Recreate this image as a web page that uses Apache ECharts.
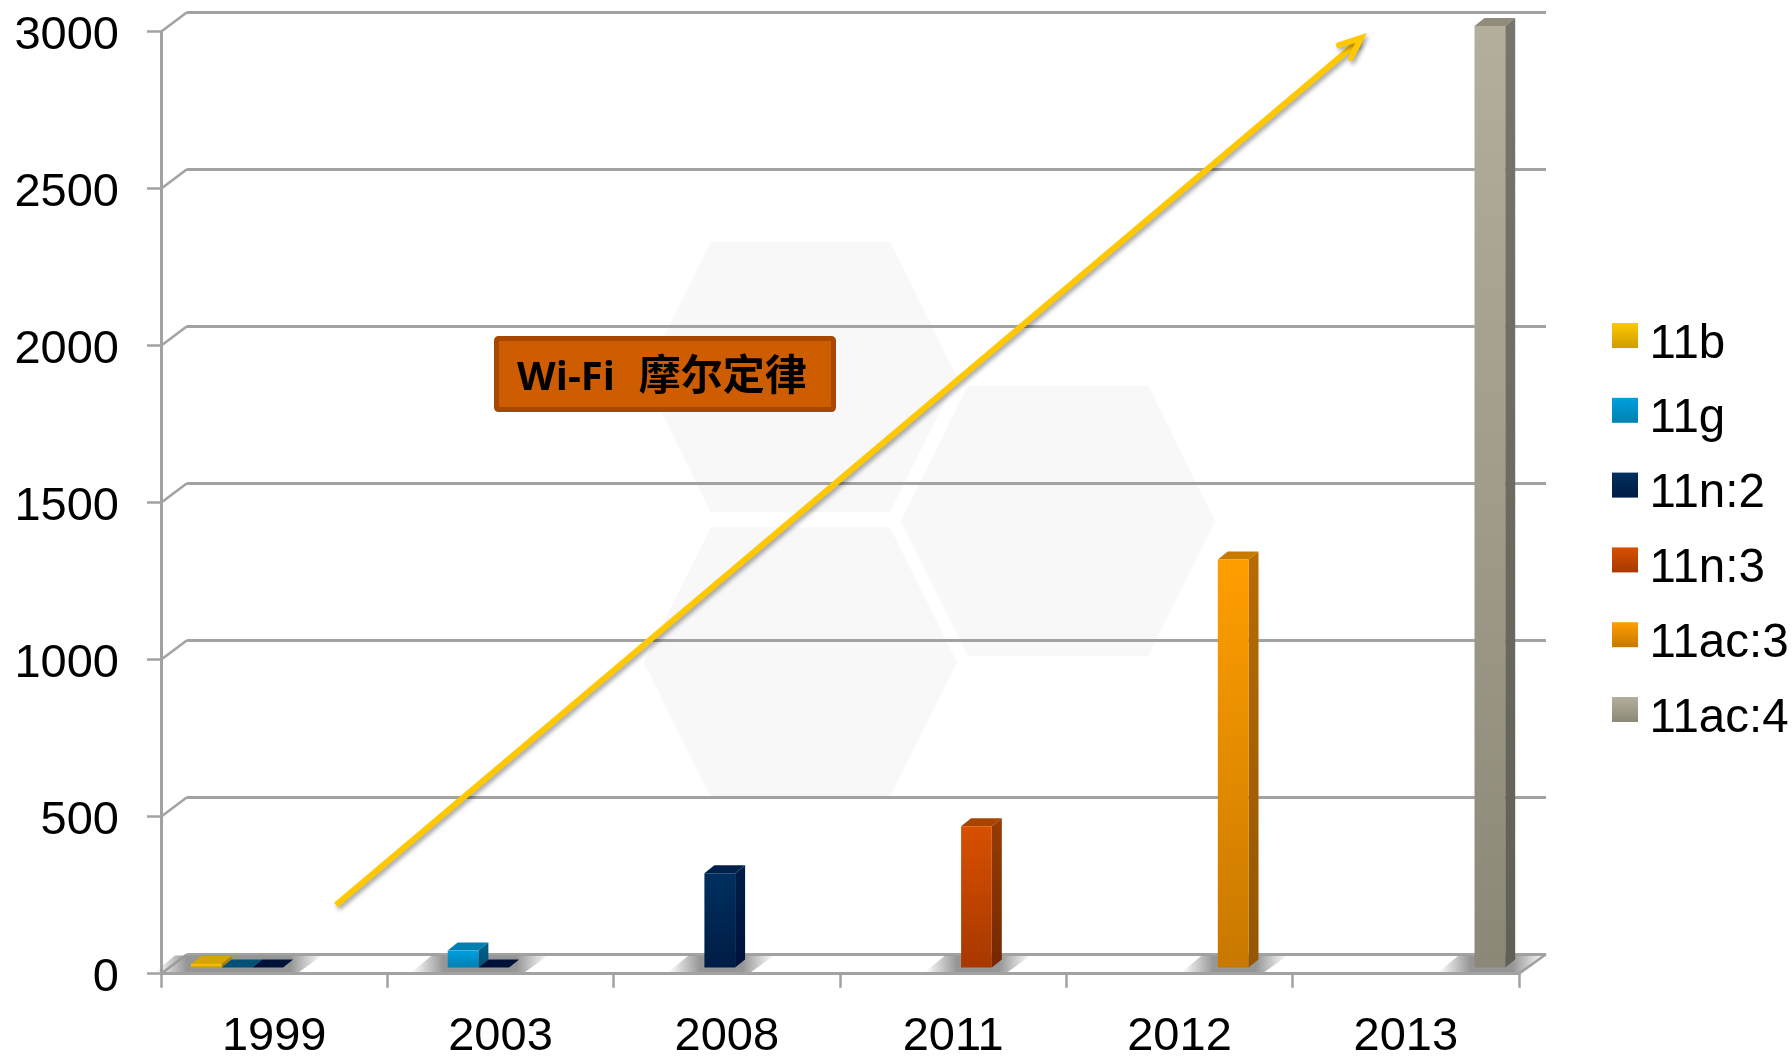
<!DOCTYPE html>
<html>
<head>
<meta charset="utf-8">
<title>Wi-Fi 摩尔定律</title>
<script src="https://cdn.jsdelivr.net/npm/echarts@6/dist/echarts.min.js"></script>
<style>
html, body { margin: 0; padding: 0; background: #fff; }
#chart { width: 1792px; height: 1056px; }
</style>
</head>
<body>
<div id="chart"></div>
<script>
// data
var years = ['1999', '2003', '2008', '2011', '2012', '2013'];
var seriesNames = ['11b', '11g', '11n:2', '11n:3', '11ac:3', '11ac:4'];
var v11b = [11, null, null, null, null, null];
var v11g = [0, 54, null, null, null, null];
var v11n2 = [0, 0, 300, null, null, null];
var v11n3 = [null, null, null, 450, null, null];
var v11ac3 = [null, null, null, null, 1300, null];
var v11ac4 = [null, null, null, null, null, 3000];
var tickValues = [0, 500, 1000, 1500, 2000, 2500, 3000];

// colours of each series: front top, front bottom, side top, side bottom, top face
var frontTop = ['#ffc800', '#00a0e0', '#003060', '#d85000', '#ff9e00', '#b4ae9c'];
var frontBottom = ['#d09c00', '#0080b0', '#001c44', '#a83800', '#c87800', '#8c8878'];
var sideTop = ['#b08400', '#006088', '#001e48', '#963c00', '#b86c00', '#78756a'];
var sideBottom = ['#a07800', '#005078', '#00123a', '#742800', '#945600', '#625f56'];
var topFace = ['#d8a400', '#0080b0', '#00204c', '#a84400', '#c87a00', '#908b7a'];

var allValues = [v11b, v11g, v11n2, v11n3, v11ac3, v11ac4];

var BAR_W = 30.7, BAR_GAP = 21, DEPTH_X = 10, DEPTH_Y = 8;
var LINE = '#a2a2a2';
var FONT = '"Liberation Sans", Arial, sans-serif';

function vGrad(a, b) {
    return new echarts.graphic.LinearGradient(0, 0, 0, 1, [
        { offset: 0, color: a }, { offset: 1, color: b }
    ]);
}

function barLeft(params, api) {
    var band = api.size([1, 0])[0];
    var base = api.coord([api.value(0), 0]);
    return base[0] - band / 2 + BAR_GAP + params.seriesIndex * BAR_W;
}

function renderBar(params, api) {
    var v = api.value(1);
    if (isNaN(v)) return;
    var i = params.seriesIndex;
    var x = barLeft(params, api);
    var y0 = api.coord([api.value(0), 0])[1];
    var y1 = api.coord([api.value(0), v])[1];
    var r = x + BAR_W;
    var kids = [{
        type: 'polygon', z2: 5,
        shape: { points: [[x - 36, 972], [r + 16, 972], [r + 39, 955.5], [x - 16, 955.5]] },
        style: {
            fill: new echarts.graphic.LinearGradient(0, 0, 1, 0, [
                { offset: 0, color: 'rgba(150,150,150,0)' },
                { offset: 0.3, color: 'rgba(150,150,150,1)' },
                { offset: 0.7, color: 'rgba(150,150,150,1)' },
                { offset: 1, color: 'rgba(150,150,150,0)' }
            ])
        }
    }, {
        type: 'polygon', z2: 10,
        shape: { points: [[x, y1], [r, y1], [r + DEPTH_X, y1 - DEPTH_Y], [x + DEPTH_X, y1 - DEPTH_Y]] },
        style: { fill: v === 0 ? sideBottom[i] : topFace[i] }
    }];
    if (v > 0) {
        kids.push({
            type: 'polygon', z2: 10,
            shape: { points: [[r, y1], [r + DEPTH_X, y1 - DEPTH_Y], [r + DEPTH_X, y0 - DEPTH_Y], [r, y0]] },
            style: { fill: vGrad(sideTop[i], sideBottom[i]) }
        }, {
            type: 'rect', z2: 11,
            shape: { x: x, y: y1, width: BAR_W, height: y0 - y1 },
            style: { fill: vGrad(frontTop[i], frontBottom[i]) }
        });
    }
    return { type: 'group', children: kids };
}

// diagonals that join the front axis to the back wall and floor
function renderWall(params, api) {
    var g = params.coordSys;
    var y = api.coord([0, api.value(1)])[1];
    var kids = [{
        type: 'line',
        shape: { x1: g.x, y1: y, x2: g.x + 26, y2: y - 19.5 },
        style: { stroke: LINE, lineWidth: 2.5 }
    }];
    if (api.value(1) === 0) {
        kids.push({
            type: 'line',
            shape: { x1: g.x + g.width, y1: y, x2: g.x + g.width + 27, y2: y - 19.5 },
            style: { stroke: LINE, lineWidth: 2.5 }
        });
    }
    return { type: 'group', children: kids };
}

var series = seriesNames.map(function (name, i) {
    return {
        name: name,
        type: 'custom',
        xAxisIndex: 2,
        yAxisIndex: 2,
        clip: false,
        silent: true,
        renderItem: renderBar,
        itemStyle: { color: vGrad(frontTop[i], frontBottom[i]) },
        data: allValues[i].map(function (v, k) { return [k, v === null ? '-' : v]; })
    };
});
series.push({
    type: 'custom',
    xAxisIndex: 0,
    yAxisIndex: 0,
    clip: false,
    silent: true,
    renderItem: renderWall,
    data: tickValues.map(function (v) { return [0, v]; })
});

function hexagon(left, topX, topX2, right, top, bottom) {
    var mid = (top + bottom) / 2;
    return {
        type: 'polygon', z: -10, silent: true,
        shape: { points: [[topX, top], [topX2, top], [right, mid], [topX2, bottom], [topX, bottom], [left, mid]] },
        style: { fill: '#f8f8f8' }
    };
}

var arrowStyle = {
    stroke: '#ffc800', lineWidth: 6, fill: null,
    shadowColor: 'rgba(0,0,0,0.35)', shadowBlur: 4, shadowOffsetX: 2, shadowOffsetY: 3
};

var myChart = echarts.init(document.getElementById('chart'));

var option = {
    animation: false,
    backgroundColor: '#fff',
    textStyle: { fontFamily: FONT },
    grid: [
        { left: 161, top: 31.7, width: 1358, height: 942, outerBoundsMode: 'none' },
        { left: 187, top: 12.5, width: 1359, height: 941.5, outerBoundsMode: 'none' },
        { left: 170, top: 26, width: 1356, height: 941.5, outerBoundsMode: 'none' }
    ],
    xAxis: [{
        gridIndex: 0,
        type: 'category',
        data: years,
        axisLine: { lineStyle: { color: LINE, width: 3 } },
        axisTick: { show: true, length: 14, lineStyle: { color: LINE, width: 2.5 } },
        axisLabel: { color: '#000', fontSize: 47, fontFamily: FONT, margin: 40, interval: 0 }
    }, {
        gridIndex: 1, type: 'category', data: years, show: false
    }, {
        gridIndex: 2, type: 'category', data: years, show: false
    }],
    yAxis: [{
        gridIndex: 0,
        type: 'value',
        min: 0, max: 3000, interval: 500,
        axisLine: { show: true, lineStyle: { color: LINE, width: 3 } },
        axisTick: { show: true, length: 14, lineStyle: { color: LINE, width: 2.5 } },
        axisLabel: {
            margin: 42,
            formatter: function (v) { return '{v|' + v + '}'; },
            rich: { v: { color: '#000', fontSize: 47, fontFamily: FONT, padding: [9, 0, 0, 0] } }
        },
        splitLine: { show: false }
    }, {
        gridIndex: 1,
        type: 'value',
        min: 0, max: 3000, interval: 500,
        axisLine: { show: false },
        axisTick: { show: false },
        axisLabel: { show: false },
        splitLine: { show: true, lineStyle: { color: LINE, width: 3 } }
    }, {
        gridIndex: 2,
        type: 'value',
        min: 0, max: 3000, interval: 500,
        show: false
    }],
    legend: {
        data: seriesNames,
        orient: 'vertical',
        left: 1612,
        top: 302.5,
        padding: 0,
        icon: 'rect',
        itemWidth: 26,
        itemHeight: 25,
        itemGap: 8.8,
        selectedMode: false,
        formatter: '{t|{name}}',
        textStyle: {
            color: '#000', fontFamily: FONT,
            rich: { t: { color: '#000', fontSize: 47.5, fontFamily: FONT, lineHeight: 46, padding: [18, 0, 0, 6.5] } }
        }
    },
    graphic: [
        hexagon(644, 711, 890, 957, 242, 512),
        hexagon(644, 711, 890, 957, 527.5, 797),
        hexagon(901, 968, 1148, 1215, 385.5, 656),
        { type: 'polyline', z: 50, silent: true, shape: { points: [[336, 905], [1359, 41]] }, style: arrowStyle },
        { type: 'polyline', z: 50, silent: true, shape: { points: [[1339, 45], [1361, 38], [1351, 58]] },
            style: { stroke: '#ffc800', lineWidth: 6, fill: null, lineCap: 'round', lineJoin: 'miter',
                shadowColor: 'rgba(0,0,0,0.35)', shadowBlur: 4, shadowOffsetX: 2, shadowOffsetY: 3 } },
        { type: 'rect', z: 60, silent: true,
            shape: { x: 496.5, y: 338.5, width: 337, height: 71, r: 2 },
            style: { fill: '#ce5c00', stroke: '#a84800', lineWidth: 5 } },
        { type: 'text', z: 61, silent: true, x: 517, y: 378.5,
            style: {
                text: '{a|Wi-Fi  }{b|摩尔定律}',
                verticalAlign: 'middle',
                rich: {
                    a: { fill: '#000', fontSize: 40, fontWeight: 'bold', fontFamily: '"Open Sans", sans-serif' },
                    b: { fill: '#000', fontSize: 42, fontWeight: 'bold', fontFamily: '"Noto Sans CJK SC", sans-serif', padding: [0, 0, 8, 3] }
                }
            } }
    ],
    series: series
};

myChart.setOption(option);
</script>
</body>
</html>
